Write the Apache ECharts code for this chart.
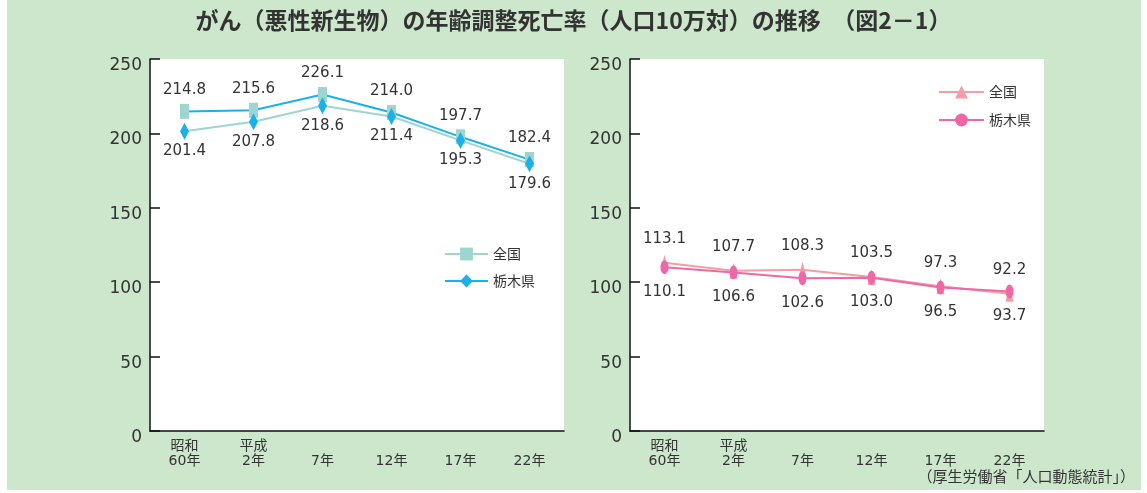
<!DOCTYPE html>
<html><head><meta charset="utf-8">
<script src="https://cdn.jsdelivr.net/npm/echarts@6/dist/echarts.min.js"></script>
<style>html,body{margin:0;padding:0;background:#fff;}#c{width:1147px;height:493px;}</style>
</head><body><div id="c"></div>
<script>
const categories = ['昭和\n60年', '平成\n2年', '7年', '12年', '17年', '22年'];
const yTicks = [0, 50, 100, 150, 200, 250];
// 左グラフ
const leftZenkoku = [214.8, 215.6, 226.1, 214.0, 197.7, 182.4];
const leftTochigi = [201.4, 207.8, 218.6, 211.4, 195.3, 179.6];
// 右グラフ
const rightZenkoku = [113.1, 107.7, 108.3, 103.5, 97.3, 92.2];
const rightTochigi = [110.1, 106.6, 102.6, 103.0, 96.5, 93.7];

const TEAL = '#9dd5d1', BLUE = '#1ab1e8', LPINK = '#f59ca5', PINK = '#ee68a6';
const NUM = '"DejaVu Sans", "Noto Sans CJK JP", sans-serif';
const CJK = '"Noto Sans CJK JP", sans-serif';

const chart = echarts.init(document.getElementById('c'), null, {renderer: 'canvas'});

function xAxis(gi) {
  return {
    type: 'category', gridIndex: gi, data: categories, boundaryGap: true,
    axisLine: {lineStyle: {color: '#111', width: 1.5}},
    axisTick: {inside: true, length: 9, lineStyle: {color: '#111', width: 1.5}},
    axisLabel: {fontFamily: NUM, fontSize: 14, color: '#333', lineHeight: 15,
      verticalAlign: 'bottom', margin: 38}
  };
}
function yAxis(gi) {
  return {
    type: 'value', gridIndex: gi, min: yTicks[0], max: yTicks[yTicks.length - 1], interval: 50,
    axisLine: {show: true, lineStyle: {color: '#111', width: 1.5}},
    axisTick: {show: true, inside: true, length: 10, lineStyle: {color: '#111', width: 1.5}},
    splitLine: {show: false},
    axisLabel: {fontFamily: NUM, fontSize: 17, color: '#333', margin: 8,
      verticalAlign: 'top', lineHeight: 13}
  };
}
function lbl(pos, d) {
  return {show: true, position: pos, distance: d, fontFamily: NUM, fontSize: 15, color: '#333',
    formatter: p => p.value.toFixed(1)};
}

chart.setOption({
  backgroundColor: '#ffffff',
  animation: false,
  graphic: [
    {type: 'rect', z: -10, shape: {x: 7, y: 0, width: 1134, height: 490}, style: {fill: '#cde7cc'}},
    {type: 'text', left: 'center', top: 9, style: {
      text: 'がん（悪性新生物）の年齢調整死亡率（人口10万対）の推移　（図2－1）',
      font: 'bold 23px "Noto Sans CJK JP", sans-serif', fill: '#333'}},
    {type: 'text', right: 12, top: 469, style: {
      text: '（厚生労働省「人口動態統計」）', font: '15px "Noto Sans CJK JP", sans-serif', fill: '#333'}}
  ],
  grid: [
    {left: 150, top: 59, width: 414, height: 372, show: true, backgroundColor: '#fff', borderWidth: 0},
    {left: 630, top: 59, width: 414, height: 372, show: true, backgroundColor: '#fff', borderWidth: 0}
  ],
  xAxis: [xAxis(0), xAxis(1)],
  yAxis: [yAxis(0), yAxis(1)],
  legend: [
    {orient: 'vertical', left: 444, top: 247, padding: 0, itemWidth: 43, itemHeight: 16, itemGap: 13,
      textStyle: {fontFamily: CJK, fontSize: 14, color: '#333'},
      formatter: n => n.slice(1),
      data: [
        {name: 'L全国', itemStyle: {color: TEAL}, lineStyle: {color: TEAL, width: 2}},
        {name: 'L栃木県', itemStyle: {color: BLUE}, lineStyle: {color: BLUE, width: 2}}
      ]},
    {orient: 'vertical', left: 938, top: 85, padding: 0, itemWidth: 45, itemHeight: 16, itemGap: 14,
      textStyle: {fontFamily: CJK, fontSize: 14, color: '#333'},
      formatter: n => n.slice(1),
      data: [
        {name: 'R全国', itemStyle: {color: LPINK}, lineStyle: {color: LPINK, width: 2}},
        {name: 'R栃木県', itemStyle: {color: PINK}, lineStyle: {color: PINK, width: 2}}
      ]}
  ],
  series: [
    {name: 'L全国', type: 'line', xAxisIndex: 0, yAxisIndex: 0, data: leftZenkoku,
      symbol: 'rect', symbolSize: [9, 15], itemStyle: {color: TEAL},
      lineStyle: {color: BLUE, width: 2}, label: lbl('top', 6)},
    {name: 'L栃木県', type: 'line', xAxisIndex: 0, yAxisIndex: 0, data: leftTochigi,
      symbol: 'diamond', symbolSize: [9, 17], itemStyle: {color: BLUE},
      lineStyle: {color: TEAL, width: 2}, label: lbl('bottom', 4)},
    {name: 'R全国', type: 'line', xAxisIndex: 1, yAxisIndex: 1, data: rightZenkoku,
      symbol: 'triangle', symbolSize: [8, 16], itemStyle: {color: LPINK},
      lineStyle: {color: LPINK, width: 2}, label: lbl('top', 8)},
    {name: 'R栃木県', type: 'line', xAxisIndex: 1, yAxisIndex: 1, data: rightTochigi,
      symbol: 'circle', symbolSize: [8, 14], itemStyle: {color: PINK},
      lineStyle: {color: PINK, width: 2}, label: lbl('bottom', 10)}
  ]
});
</script>
</body></html>
